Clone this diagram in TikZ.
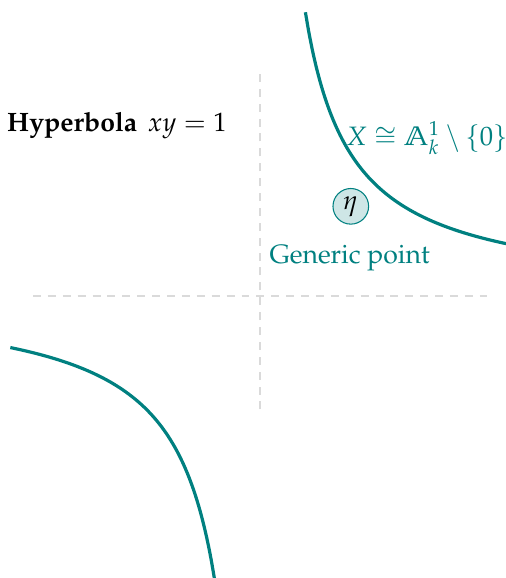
\documentclass[tikz,border=0pt]{standalone}
\usepackage[T1]{fontenc}
\usepackage{mathpazo}
\usetikzlibrary{positioning}
\definecolor{tealcurve}{RGB}{0,128,128}
\definecolor{tealfill}{RGB}{206,230,230}
\definecolor{axisgray}{RGB}{218,218,218}

\begin{document}
\begin{tikzpicture}[x=1.5cm,y=1.5cm,
    axisline/.style={axisgray,thin,dash pattern=on 3pt off 2.6pt},
    branch/.style={tealcurve,line width=1.2pt,smooth,samples=60},
    pointdot/.style={circle,draw=tealcurve,fill=tealfill,line width=0.4pt,
                     minimum size=13.4pt,inner sep=0pt}]
  \useasboundingbox (-2.291,-2.485) rectangle (2.167,2.608);
  \clip (-2.291,-2.485) rectangle (2.167,2.608);

  % axes
  \draw[axisline] (-2,0) -- (2,0);
  \draw[axisline] (0,-1) -- (0,2);

  % the two branches of xy = 1
  \draw[branch,domain=0.4:2.2] plot (\x,{1/\x});
  \draw[branch,domain=-2.2:-0.4] plot (\x,{1/\x});

  \node (title) at (-1.26,1.5) {\textbf{Hyperbola}\hspace{4pt}$xy = 1$};
  \node[text=tealcurve,inner sep=1pt] (curvelabel) at (1.47,1.39)
    {$X \cong \mathbb{A}^1_k \setminus \{0\}$};

  \node[pointdot] (eta) at (0.8,0.79) {$\eta$};
  \node[text=tealcurve] (etalabel) at (0.79,0.33) {Generic point};
\end{tikzpicture}
\end{document}
